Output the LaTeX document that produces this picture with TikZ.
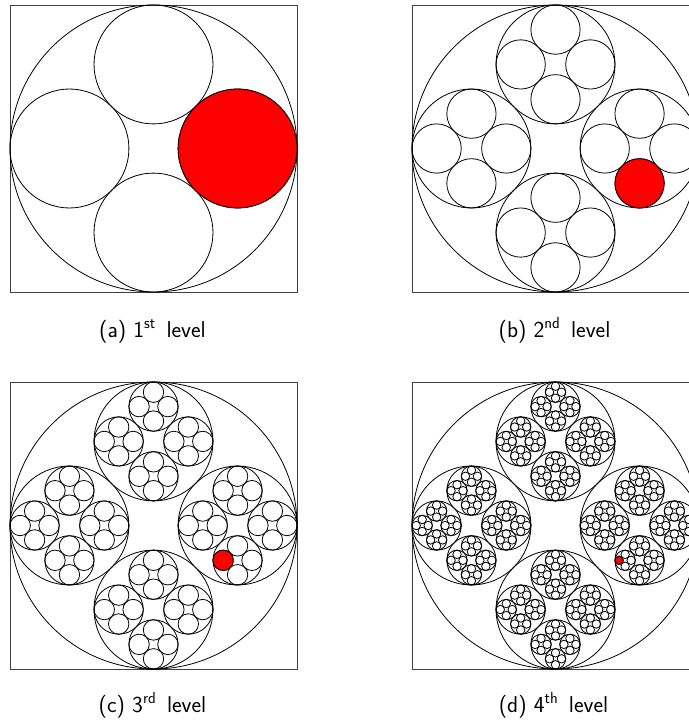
\documentclass[tikz,border=0pt]{standalone}
\usepackage{tikz}
\tikzset{
  frame/.style={draw=black!75, line width=0.9bp},
  ring/.style={draw=black, line width=0.8bp},
  hit/.style={draw=black, line width=0.8bp, fill=red},
  captext/.style={font=\sffamily\fontsize{23}{27}\selectfont, inner sep=0pt, anchor=base}
}
\newcommand\subcircles[4]{%
  \ifnum#4>0
    \pgfmathsetmacro\rr{#3*0.41421356}%
    \pgfmathsetmacro\dd{\rr*1.41421356}%
    \foreach \a in {0,90,180,270}{%
      \pgfmathsetmacro\nx{#1+\dd*cos(\a)}%
      \pgfmathsetmacro\ny{#2+\dd*sin(\a)}%
      \draw[ring] (\nx,\ny) circle[radius=\rr bp];
      \pgfmathtruncatemacro\nd{#4-1}%
      \edef\next{\noexpand\subcircles{\nx}{\ny}{\rr}{\nd}}\next
    }%
  \fi}
% panel: cx cy depth
\newcommand\panel[3]{%
  \draw[frame] (#1-143.5,#2-143.5) rectangle (#1+143.5,#2+143.5);
  \draw[ring] (#1,#2) circle[radius=143.5bp];
  \subcircles{#1}{#2}{143.5}{#3}}
\begin{document}
\begin{tikzpicture}[x=1bp,y=-1bp]
\useasboundingbox (0,0) rectangle (689,724);
\clip (0,0) rectangle (689,724);
% R = 143.5, r1 = 59.44, d1 = 84.06; r2 = 24.62, d2 = 34.82; r3 = 10.20, d3 = 14.42; r4 = 4.22, d4 = 5.97
\panel{153.5}{148.5}{1}
\draw[hit] (153.5+84.06,148.5) circle[radius=59.44bp];
\panel{555.5}{148.5}{2}
\draw[hit] (555.5+84.06,148.5+34.82) circle[radius=24.62bp];
\panel{153.5}{525.5}{3}
\draw[hit] (153.5+84.06-14.42,525.5+34.82) circle[radius=10.20bp];
\panel{555.5}{525.5}{4}
\draw[hit] (555.5+84.06-14.42-5.97,525.5+34.82) circle[radius=4.22bp];
\node[captext] (capa) at (152.5,337) {(a) 1\textsuperscript{st}\hspace{0.15em} level};
\node[captext] (capb) at (554.5,337) {(b) 2\textsuperscript{nd}\hspace{0.15em} level};
\node[captext] (capc) at (152.5,712) {(c) 3\textsuperscript{rd}\hspace{0.15em} level};
\node[captext] (capd) at (553.5,712) {(d) 4\textsuperscript{th}\hspace{0.15em} level};
\end{tikzpicture}
\end{document}
